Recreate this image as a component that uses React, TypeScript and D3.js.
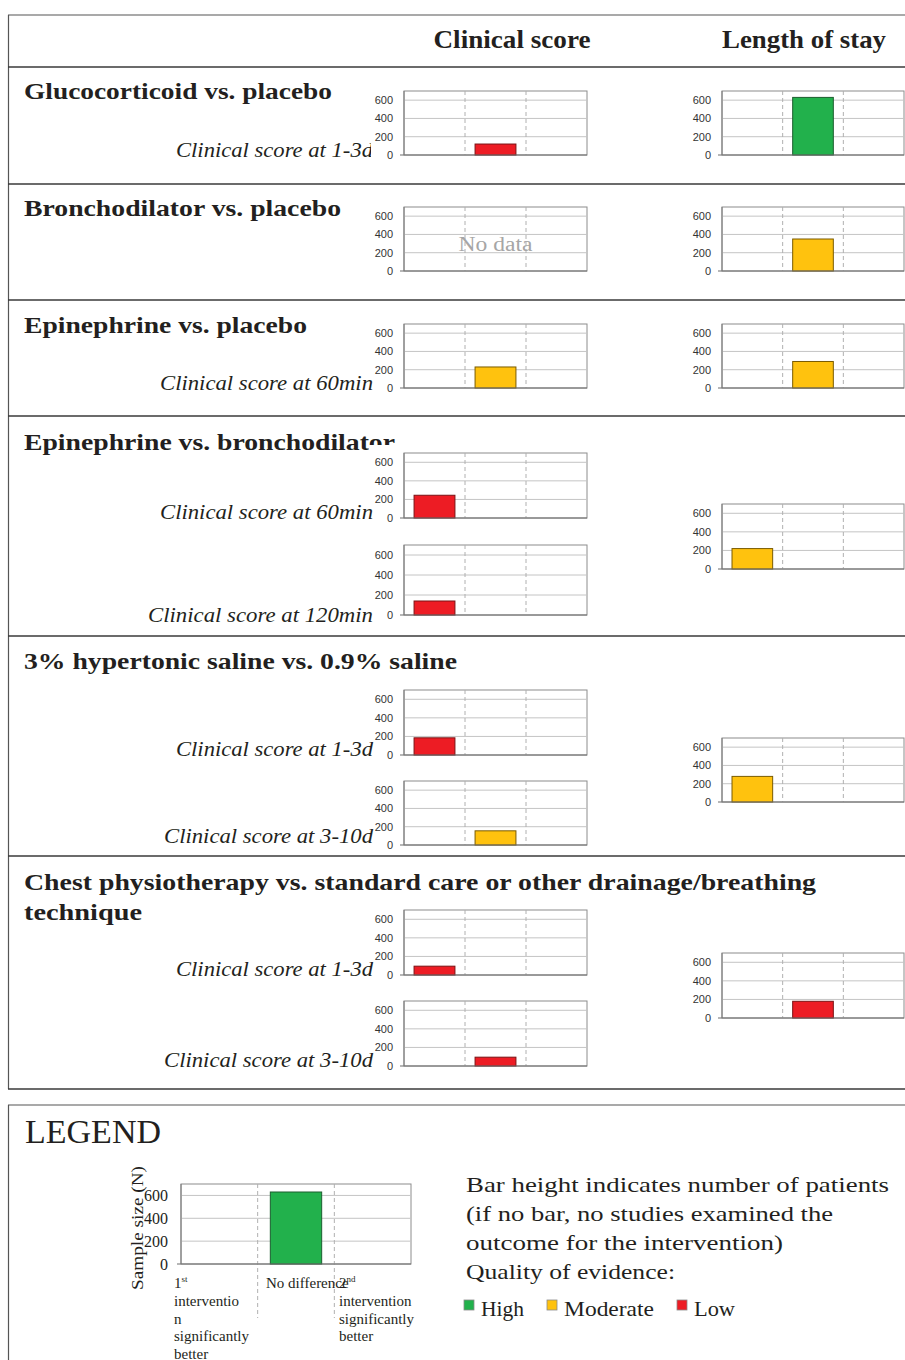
import React from "react";
import * as d3 from "d3";

// ---- data ----
const EFFECTS = ["1st better", "No difference", "2nd better"];
const QUALITY_FILL: Record<string, string> = { High: "#22B14C", Moderate: "#FFC20E", Low: "#ED1C24" };
const QUALITY_STROKE: Record<string, string> = { High: "#1C5E2F", Moderate: "#7A5B00", Low: "#7A1214" };
const Y_TICKS = [0, 200, 400, 600];
const Y_MAX = 700;

const COMPARISONS = [
  ["Glucocorticoid vs. placebo"],
  ["Bronchodilator vs. placebo"],
  ["Epinephrine vs. placebo"],
  ["Epinephrine vs. bronchodilator"],
  ["3% hypertonic saline vs. 0.9% saline"],
  ["Chest physiotherapy vs. standard care or other drainage/breathing", "technique"],
];

// clinical score charts
const CS_OUTCOMES = [
  "Clinical score at 1-3d", null, "Clinical score at 60min", "Clinical score at 60min",
  "Clinical score at 120min", "Clinical score at 1-3d", "Clinical score at 3-10d",
  "Clinical score at 1-3d", "Clinical score at 3-10d",
];
const CS_EFFECT = [1, null, 1, 0, 0, 0, 1, 0, 1];
const CS_N = [120, null, 230, 245, 140, 185, 155, 95, 95];
const CS_QUALITY = ["Low", null, "Moderate", "Low", "Low", "Low", "Moderate", "Low", "Low"];

// length of stay charts
const LOS_EFFECT = [1, 1, 1, 0, 0, 1];
const LOS_N = [630, 350, 290, 220, 280, 180];
const LOS_QUALITY = ["High", "Moderate", "Moderate", "Moderate", "Moderate", "Low"];

// legend
const LEGEND_EFFECT = 1;
const LEGEND_N = 630;
const LEGEND_LINES = [
  "Bar height indicates number of patients",
  "(if no bar, no studies examined the",
  "outcome for the intervention)",
  "Quality of evidence:",
];
const QUALITY_LEVELS = ["High", "Moderate", "Low"];
const FIRST_LINES = ["interventio", "n", "significantly", "better"];
const SECOND_LINES = ["intervention", "significantly", "better"];

// ---- layout ----
const W = 905;
const H = 1360;
const ROW_LINES = [67, 184, 300, 416, 636, 856, 1089];
const TITLE_Y = [99, 216, 333, 450, 669, 890];
const TITLE_LEN = [[308], [317], [283], [371], [433], [792, 118]];
const CS_PLOT = [[91, 155], [207, 271], [324, 388], [453, 518], [545, 615], [690, 755], [781, 845], [910, 975], [1001, 1066]];
const CS_LABEL_Y = [157, null, 390, 519, 622, 756, 843, 976, 1067];
const CS_MASK: Array<number[] | null> = [[371, 136, 30, 28], null, null, [369, 445, 231, 8], null, null, null, null, null];
const LOS_PLOT = [[91, 155], [207, 271], [324, 388], [504, 569], [738, 802], [953, 1018]];
const LABEL_LEN: Record<string, number> = {
  "Clinical score at 1-3d": 197,
  "Clinical score at 60min": 213,
  "Clinical score at 120min": 225,
  "Clinical score at 3-10d": 209,
};
const CS_LEFT = 404;
const LOS_LEFT = 722;
const PLOT_W = 183;

const SERIF = "'Liberation Serif', 'DejaVu Serif', serif";
const SANS = "'Liberation Sans', Arial, sans-serif";
const INK = "#231F20";

function MiniChart(props: {
  left: number; top: number; bottom: number; width: number;
  effect: number | null; n: number | null; quality: string | null;
  noData?: boolean; big?: boolean;
}) {
  const { left, top, bottom, width, effect, n, quality, noData, big } = props;
  const x = d3.scaleBand<string>().domain(EFFECTS).range([left, left + width]);
  const y = d3.scaleLinear().domain([0, Y_MAX]).range([bottom, top]);
  const bw = x.bandwidth();
  const barW = bw * 0.67;
  const dividerBottom = big ? bottom + 54 : bottom;
  return (
    <g>
      <rect x={left} y={top} width={width} height={bottom - top} fill="#fff" stroke="#8c8c8c" strokeWidth={1} />
      {Y_TICKS.filter(t => t > 0).map(t => (
        <line key={t} x1={left} x2={left + width} y1={y(t)} y2={y(t)} stroke="#c4c4c4" strokeWidth={1} />
      ))}
      {EFFECTS.slice(1).map(e => (
        <line key={e} x1={x(e)} x2={x(e)} y1={top} y2={dividerBottom} stroke="#b0b0b0" strokeWidth={1} strokeDasharray="4,3" />
      ))}
      {effect !== null && n !== null && quality && (
        <rect
          x={(x(EFFECTS[effect]) as number) + (bw - barW) / 2}
          y={y(n)}
          width={barW}
          height={y(0) - y(n)}
          fill={QUALITY_FILL[quality]}
          stroke={QUALITY_STROKE[quality]}
          strokeWidth={1}
        />
      )}
      <line x1={left - 4} x2={left + width} y1={y(0)} y2={y(0)} stroke="#6e6e6e" strokeWidth={1.2} />
      <line x1={left} x2={left} y1={top} y2={bottom} stroke="#7a7a7a" strokeWidth={1} />
      {Y_TICKS.map(t => (
        <text
          key={t}
          x={big ? left - 13 : left - 11}
          y={y(t)}
          dy="0.35em"
          textAnchor="end"
          fontFamily={big ? SERIF : SANS}
          fontSize={big ? 16 : 11}
          fill={big ? INK : "#333"}
        >
          {t}
        </text>
      ))}
      {noData && (
        <text x={left + width / 2} y={bottom - 20} textAnchor="middle" fontFamily={SERIF} fontSize={20} fill="#a6a6a6"
          textLength={74} lengthAdjust="spacingAndGlyphs">
          No data
        </text>
      )}
    </g>
  );
}

export default function App() {
  return (
    <svg width={W} height={H} viewBox={`0 0 ${W} ${H}`} style={{ position: "absolute", left: 0, top: 0, background: "#fff" }}>
      {/* table frame */}
      <line x1={8} x2={W} y1={15} y2={15} stroke="#555" strokeWidth={1.2} />
      <line x1={8.5} x2={8.5} y1={15} y2={ROW_LINES[ROW_LINES.length - 1]} stroke="#555" strokeWidth={1.2} />
      {ROW_LINES.map(ly => (
        <line key={ly} x1={8} x2={W} y1={ly} y2={ly} stroke="#3a3a3a" strokeWidth={1.6} />
      ))}

      {/* header */}
      <text x={512} y={48} textAnchor="middle" fontFamily={SERIF} fontWeight="bold" fontSize={25} fill={INK} textLength={157} lengthAdjust="spacingAndGlyphs">
        Clinical score
      </text>
      <text x={804} y={48} textAnchor="middle" fontFamily={SERIF} fontWeight="bold" fontSize={25} fill={INK} textLength={164} lengthAdjust="spacingAndGlyphs">
        Length of stay
      </text>

      {/* row titles */}
      {COMPARISONS.map((lines, i) =>
        lines.map((ln, j) => (
          <text key={`${i}-${j}`} x={24} y={TITLE_Y[i] + j * 30} fontFamily={SERIF} fontWeight="bold" fontSize={23}
            fill={INK} textLength={TITLE_LEN[i][j]} lengthAdjust="spacingAndGlyphs">
            {ln}
          </text>
        ))
      )}

      {/* outcome labels */}
      {CS_OUTCOMES.map((lab, i) =>
        lab ? (
          <text key={i} x={373} y={CS_LABEL_Y[i] as number} textAnchor="end" fontFamily={SERIF} fontStyle="italic"
            fontSize={21} fill={INK} textLength={LABEL_LEN[lab]} lengthAdjust="spacingAndGlyphs">
            {lab}
          </text>
        ) : null
      )}

      {/* masks from chart backgrounds */}
      {CS_MASK.map((m, i) => (m ? <rect key={i} x={m[0]} y={m[1]} width={m[2]} height={m[3]} fill="#fff" /> : null))}

      {/* clinical score charts */}
      {CS_PLOT.map(([top, bottom], i) => (
        <MiniChart key={`cs${i}`} left={CS_LEFT} top={top} bottom={bottom} width={PLOT_W}
          effect={CS_EFFECT[i]} n={CS_N[i]} quality={CS_QUALITY[i]} noData={CS_OUTCOMES[i] === null} />
      ))}

      {/* length of stay charts */}
      {LOS_PLOT.map(([top, bottom], i) => (
        <MiniChart key={`los${i}`} left={LOS_LEFT} top={top} bottom={bottom} width={PLOT_W - 1}
          effect={LOS_EFFECT[i]} n={LOS_N[i]} quality={LOS_QUALITY[i]} />
      ))}

      {/* legend box */}
      <line x1={8} x2={W} y1={1105} y2={1105} stroke="#555" strokeWidth={1.2} />
      <line x1={8.5} x2={8.5} y1={1105} y2={H} stroke="#555" strokeWidth={1.2} />
      <text x={25} y={1143} fontFamily={SERIF} fontSize={34} fill={INK} textLength={136} lengthAdjust="spacingAndGlyphs">
        LEGEND
      </text>

      <MiniChart left={181} top={1184} bottom={1264} width={230} effect={LEGEND_EFFECT} n={LEGEND_N} quality="High" big />
      <text transform="translate(143,1228) rotate(-90)" textAnchor="middle" fontFamily={SERIF} fontSize={17} fill={INK}
        textLength={124} lengthAdjust="spacingAndGlyphs">
        Sample size (N)
      </text>

      <g fontFamily={SERIF} fontSize={15} fill={INK}>
        <text x={174} y={1288}>1<tspan fontSize={9} dy={-6}>st</tspan></text>
        {FIRST_LINES.map((s, k) => (
          <text key={s} x={174} y={1306 + k * 17.5}>{s}</text>
        ))}
        <text x={266} y={1288}>No difference</text>
        <text x={339} y={1288}>2<tspan fontSize={9} dy={-6}>nd</tspan></text>
        {SECOND_LINES.map((s, k) => (
          <text key={s} x={339} y={1306 + k * 17.5}>{s}</text>
        ))}
      </g>

      <g fontFamily={SERIF} fontSize={22} fill={INK}>
        {LEGEND_LINES.map((s, k) => (
          <text key={s} x={466} y={1192 + k * 29} textLength={[423, 367, 317, 209][k]} lengthAdjust="spacingAndGlyphs">
            {s}
          </text>
        ))}
        {QUALITY_LEVELS.map((q, k) => {
          const qx = [464, 547, 677][k];
          return (
            <g key={q}>
              <rect x={qx} y={1300} width={10} height={10} fill={QUALITY_FILL[q]} stroke="#8a8a8a" strokeWidth={0.8} />
              <text x={qx + 17} y={1316} textLength={[43, 90, 41][k]} lengthAdjust="spacingAndGlyphs">{q}</text>
            </g>
          );
        })}
      </g>
    </svg>
  );
}
